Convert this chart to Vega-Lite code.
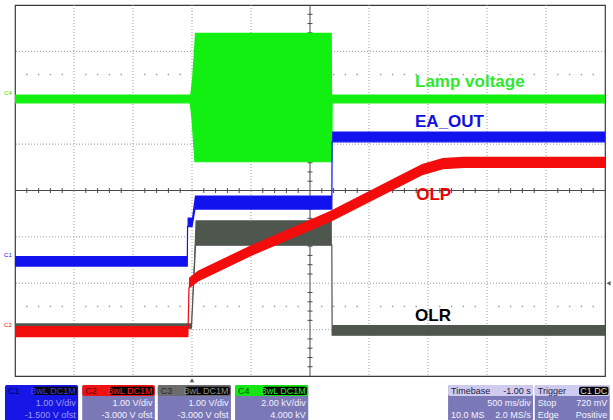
{
  "$schema": "https://vega.github.io/schema/vega-lite/v6.json",
  "width": 590,
  "height": 371,
  "autosize": "none",
  "padding": {"left": 15, "top": 5, "right": 8, "bottom": 44},
  "background": "#ffffff",
  "config": {
    "view": {"stroke": "#3a3a3a", "strokeWidth": 1.2},
    "text": {"font": "Liberation Sans"}
  },
  "datasets": {
    "gridX": [{"d": 1}, {"d": 2}, {"d": 3}, {"d": 4}, {"d": 6}, {"d": 7}, {"d": 8}, {"d": 9}],
    "gridY": [{"d": 1}, {"d": 2}, {"d": 3}, {"d": 5}, {"d": 6}, {"d": 7}],
    "subX": [
      {"d": 0.2}, {"d": 0.4}, {"d": 0.6}, {"d": 0.8}, {"d": 1.2}, {"d": 1.4}, {"d": 1.6}, {"d": 1.8},
      {"d": 2.2}, {"d": 2.4}, {"d": 2.6}, {"d": 2.8}, {"d": 3.2}, {"d": 3.4}, {"d": 3.6}, {"d": 3.8},
      {"d": 4.2}, {"d": 4.4}, {"d": 4.6}, {"d": 4.8}, {"d": 5.2}, {"d": 5.4}, {"d": 5.6}, {"d": 5.8},
      {"d": 6.2}, {"d": 6.4}, {"d": 6.6}, {"d": 6.8}, {"d": 7.2}, {"d": 7.4}, {"d": 7.6}, {"d": 7.8},
      {"d": 8.2}, {"d": 8.4}, {"d": 8.6}, {"d": 8.8}, {"d": 9.2}, {"d": 9.4}, {"d": 9.6}, {"d": 9.8}
    ],
    "subY": [
      {"d": 0.2}, {"d": 0.4}, {"d": 0.6}, {"d": 0.8}, {"d": 1.2}, {"d": 1.4}, {"d": 1.6}, {"d": 1.8},
      {"d": 2.2}, {"d": 2.4}, {"d": 2.6}, {"d": 2.8}, {"d": 3.2}, {"d": 3.4}, {"d": 3.6}, {"d": 3.8},
      {"d": 4.2}, {"d": 4.4}, {"d": 4.6}, {"d": 4.8}, {"d": 5.2}, {"d": 5.4}, {"d": 5.6}, {"d": 5.8},
      {"d": 6.2}, {"d": 6.4}, {"d": 6.6}, {"d": 6.8}, {"d": 7.2}, {"d": 7.4}, {"d": 7.6}, {"d": 7.8}
    ],
    "traces": [
      {"ch": "C4", "t": 0, "lo": 5.89, "hi": 6.07},
      {"ch": "C4", "t": 2.97, "lo": 5.89, "hi": 6.07},
      {"ch": "C4", "t": 3.0, "lo": 5.55, "hi": 6.4},
      {"ch": "C4", "t": 3.05, "lo": 4.62, "hi": 7.4},
      {"ch": "C4", "t": 5.37, "lo": 4.62, "hi": 7.4},
      {"ch": "C4", "t": 5.375, "lo": 5.89, "hi": 6.07},
      {"ch": "C4", "t": 10, "lo": 5.89, "hi": 6.07},

      {"ch": "C3", "t": 0, "lo": 1.03, "hi": 1.14},
      {"ch": "C3", "t": 2.99, "lo": 1.03, "hi": 1.14},
      {"ch": "C3", "t": 3.06, "lo": 2.82, "hi": 3.36},
      {"ch": "C3", "t": 5.37, "lo": 2.82, "hi": 3.36},
      {"ch": "C3", "t": 5.375, "lo": 0.88, "hi": 1.1},
      {"ch": "C3", "t": 10, "lo": 0.88, "hi": 1.1},

      {"ch": "C1", "t": 0, "lo": 2.37, "hi": 2.59},
      {"ch": "C1", "t": 2.92, "lo": 2.37, "hi": 2.59},
      {"ch": "C1", "t": 2.925, "lo": 3.22, "hi": 3.42},
      {"ch": "C1", "t": 3.0, "lo": 3.22, "hi": 3.42},
      {"ch": "C1", "t": 3.05, "lo": 3.6, "hi": 3.89},
      {"ch": "C1", "t": 5.37, "lo": 3.6, "hi": 3.89},
      {"ch": "C1", "t": 5.375, "lo": 5.05, "hi": 5.27},
      {"ch": "C1", "t": 10, "lo": 5.05, "hi": 5.27},

      {"ch": "C2", "t": 0, "lo": 0.85, "hi": 1.08},
      {"ch": "C2", "t": 2.93, "lo": 0.85, "hi": 1.08},
      {"ch": "C2", "t": 2.95, "lo": 1.9, "hi": 2.12},
      {"ch": "C2", "t": 3.1, "lo": 2.05, "hi": 2.27},
      {"ch": "C2", "t": 4.0, "lo": 2.6, "hi": 2.82},
      {"ch": "C2", "t": 5.34, "lo": 3.33, "hi": 3.56},
      {"ch": "C2", "t": 6.5, "lo": 4.08, "hi": 4.31},
      {"ch": "C2", "t": 6.9, "lo": 4.34, "hi": 4.57},
      {"ch": "C2", "t": 7.25, "lo": 4.47, "hi": 4.7},
      {"ch": "C2", "t": 7.6, "lo": 4.5, "hi": 4.73},
      {"ch": "C2", "t": 10, "lo": 4.5, "hi": 4.73}
    ],
    "chanTags": [
      {"ch": "C4", "lvl": 6.06},
      {"ch": "C1", "lvl": 2.56},
      {"ch": "C2", "lvl": 1.05}
    ],
    "labels": [
      {"text": "Lamp voltage", "x": 6.78, "y": 6.23, "tone": "lgreen"},
      {"text": "EA_OUT", "x": 6.78, "y": 5.37, "tone": "lblue"},
      {"text": "OLP", "x": 6.8, "y": 3.8, "tone": "lred"},
      {"text": "OLR", "x": 6.78, "y": 1.19, "tone": "lblack"}
    ],
    "boxes": [
      {"x0": -0.17, "x1": 1.07, "y0": -0.194, "y1": -1.0, "tone": "c1"},
      {"x0": 1.14, "x1": 2.37, "y0": -0.194, "y1": -1.0, "tone": "body"},
      {"x0": 2.42, "x1": 3.66, "y0": -0.194, "y1": -1.0, "tone": "body"},
      {"x0": 3.73, "x1": 4.97, "y0": -0.194, "y1": -1.0, "tone": "body"},
      {"x0": 7.34, "x1": 8.78, "y0": -0.194, "y1": -1.0, "tone": "body"},
      {"x0": 8.81, "x1": 10.08, "y0": -0.194, "y1": -1.0, "tone": "body"},
      {"x0": 1.14, "x1": 2.37, "y0": -0.194, "y1": -0.43, "tone": "c2"},
      {"x0": 2.42, "x1": 3.66, "y0": -0.194, "y1": -0.43, "tone": "c3"},
      {"x0": 3.73, "x1": 4.97, "y0": -0.194, "y1": -0.43, "tone": "c4"},
      {"x0": 7.34, "x1": 8.78, "y0": -0.194, "y1": -0.43, "tone": "head"},
      {"x0": 8.81, "x1": 10.08, "y0": -0.194, "y1": -0.43, "tone": "head"},
      {"x0": 0.31, "x1": 1.05, "y0": -0.23, "y1": -0.41, "tone": "tag"},
      {"x0": 1.61, "x1": 2.35, "y0": -0.23, "y1": -0.41, "tone": "tag"},
      {"x0": 2.89, "x1": 3.64, "y0": -0.23, "y1": -0.41, "tone": "tag"},
      {"x0": 4.2, "x1": 4.95, "y0": -0.23, "y1": -0.41, "tone": "tag"},
      {"x0": 9.56, "x1": 10.06, "y0": -0.23, "y1": -0.41, "tone": "tag"}
    ],
    "readout": [
      {"side": "L", "x": -0.12, "y": -0.323, "text": "C1", "tone": "navy"},
      {"side": "R", "x": 1.03, "y": -0.323, "text": "BwL DC1M", "tone": "tagc1"},
      {"side": "R", "x": 1.03, "y": -0.582, "text": "1.00 V/div", "tone": "dim"},
      {"side": "R", "x": 1.03, "y": -0.841, "text": "-1.500 V ofst", "tone": "dim"},

      {"side": "L", "x": 1.19, "y": -0.323, "text": "C2", "tone": "maroon"},
      {"side": "R", "x": 2.33, "y": -0.323, "text": "BwL DC1M", "tone": "tagc2"},
      {"side": "R", "x": 2.33, "y": -0.582, "text": "1.00 V/div", "tone": "ink"},
      {"side": "R", "x": 2.33, "y": -0.841, "text": "-3.000 V ofst", "tone": "ink"},

      {"side": "L", "x": 2.47, "y": -0.323, "text": "C3", "tone": "charcoal"},
      {"side": "R", "x": 3.62, "y": -0.323, "text": "BwL DC1M", "tone": "tagc3"},
      {"side": "R", "x": 3.62, "y": -0.582, "text": "1.00 V/div", "tone": "ink"},
      {"side": "R", "x": 3.62, "y": -0.841, "text": "-3.000 V ofst", "tone": "ink"},

      {"side": "L", "x": 3.78, "y": -0.323, "text": "C4", "tone": "forest"},
      {"side": "R", "x": 4.93, "y": -0.323, "text": "BwL DC1M", "tone": "tagc4"},
      {"side": "R", "x": 4.93, "y": -0.582, "text": "2.00 kV/div", "tone": "ink"},
      {"side": "R", "x": 4.93, "y": -0.841, "text": "4.000 kV", "tone": "ink"},

      {"side": "L", "x": 7.39, "y": -0.323, "text": "Timebase", "tone": "dark"},
      {"side": "R", "x": 8.74, "y": -0.323, "text": "-1.00 s", "tone": "dark"},
      {"side": "R", "x": 8.74, "y": -0.582, "text": "500 ms/div", "tone": "ink"},
      {"side": "L", "x": 7.39, "y": -0.841, "text": "10.0 MS", "tone": "ink"},
      {"side": "R", "x": 8.74, "y": -0.841, "text": "2.0 MS/s", "tone": "ink"},

      {"side": "L", "x": 8.86, "y": -0.323, "text": "Trigger", "tone": "dark"},
      {"side": "R", "x": 10.04, "y": -0.323, "text": "C1 DC", "tone": "tagtr"},
      {"side": "L", "x": 8.86, "y": -0.582, "text": "Stop", "tone": "ink"},
      {"side": "R", "x": 10.04, "y": -0.582, "text": "720 mV", "tone": "ink"},
      {"side": "L", "x": 8.86, "y": -0.841, "text": "Edge", "tone": "ink"},
      {"side": "R", "x": 10.04, "y": -0.841, "text": "Positive", "tone": "ink"}
    ],
    "markers": [
      {"kind": "time", "x": 3.0, "y": -0.09},
      {"kind": "level", "x": 10.06, "y": 2.0}
    ]
  },
  "layer": [
    {
      "data": {"name": "gridX"},
      "mark": {"type": "rule", "color": "#9a9a9a", "strokeDash": [1, 2], "strokeWidth": 1},
      "encoding": {
        "x": {"field": "d", "type": "quantitative", "scale": {"domain": [0, 10], "nice": false, "zero": false}, "axis": null}
      }
    },
    {
      "data": {"name": "gridY"},
      "mark": {"type": "rule", "color": "#9a9a9a", "strokeDash": [1, 2], "strokeWidth": 1},
      "encoding": {
        "y": {"field": "d", "type": "quantitative", "scale": {"domain": [0, 8], "nice": false, "zero": false}, "axis": null}
      }
    },
    {
      "data": {"name": "subX"},
      "mark": {"type": "square", "size": 2, "color": "#9a9a9a", "opacity": 1},
      "encoding": {
        "x": {"field": "d", "type": "quantitative", "scale": {"domain": [0, 10], "nice": false, "zero": false}, "axis": null},
        "y": {"datum": 6.5, "type": "quantitative", "scale": {"domain": [0, 8], "nice": false, "zero": false}, "axis": null}
      }
    },
    {
      "data": {"name": "subX"},
      "mark": {"type": "square", "size": 2, "color": "#9a9a9a", "opacity": 1},
      "encoding": {
        "x": {"field": "d", "type": "quantitative", "scale": {"domain": [0, 10], "nice": false, "zero": false}, "axis": null},
        "y": {"datum": 1.5, "type": "quantitative", "scale": {"domain": [0, 8], "nice": false, "zero": false}, "axis": null}
      }
    },
    {
      "data": {"values": [{}]},
      "mark": {"type": "rule", "color": "#4a4a4a", "strokeWidth": 1},
      "encoding": {
        "x": {"datum": 5, "type": "quantitative", "scale": {"domain": [0, 10], "nice": false, "zero": false}, "axis": null}
      }
    },
    {
      "data": {"values": [{}]},
      "mark": {"type": "rule", "color": "#4a4a4a", "strokeWidth": 1},
      "encoding": {
        "y": {"datum": 4, "type": "quantitative", "scale": {"domain": [0, 8], "nice": false, "zero": false}, "axis": null}
      }
    },
    {
      "data": {"name": "subX"},
      "mark": {"type": "tick", "orient": "vertical", "size": 5, "thickness": 1, "color": "#4a4a4a", "opacity": 1},
      "encoding": {
        "x": {"field": "d", "type": "quantitative", "scale": {"domain": [0, 10], "nice": false, "zero": false}, "axis": null},
        "y": {"datum": 4, "type": "quantitative", "scale": {"domain": [0, 8], "nice": false, "zero": false}, "axis": null}
      }
    },
    {
      "data": {"name": "subY"},
      "mark": {"type": "tick", "orient": "horizontal", "size": 5, "thickness": 1, "color": "#4a4a4a", "opacity": 1},
      "encoding": {
        "x": {"datum": 5, "type": "quantitative", "scale": {"domain": [0, 10], "nice": false, "zero": false}, "axis": null},
        "y": {"field": "d", "type": "quantitative", "scale": {"domain": [0, 8], "nice": false, "zero": false}, "axis": null}
      }
    },
    {
      "data": {"name": "traces"},
      "transform": [{"filter": "datum.ch === 'C4'"}],
      "encoding": {
        "x": {"field": "t", "type": "quantitative", "scale": {"domain": [0, 10], "nice": false, "zero": false}, "axis": null},
        "color": {"field": "ch", "type": "nominal", "scale": {"domain": ["C1", "C2", "C3", "C4"], "range": ["#1212ee", "#f20c0c", "#4e564e", "#12f012"]}, "legend": null}
      },
      "layer": [
        {
          "mark": {"type": "area", "opacity": 1},
          "encoding": {
            "y": {"field": "hi", "type": "quantitative", "scale": {"domain": [0, 8], "nice": false, "zero": false}, "axis": null},
            "y2": {"field": "lo"}
          }
        },
        {
          "mark": {"type": "line", "strokeWidth": 1.2},
          "encoding": {
            "y": {"field": "lo", "type": "quantitative", "scale": {"domain": [0, 8], "nice": false, "zero": false}, "axis": null}
          }
        }
      ]
    },
    {
      "data": {"name": "traces"},
      "transform": [{"filter": "datum.ch === 'C3'"}],
      "encoding": {
        "x": {"field": "t", "type": "quantitative", "scale": {"domain": [0, 10], "nice": false, "zero": false}, "axis": null},
        "color": {"field": "ch", "type": "nominal", "scale": {"domain": ["C1", "C2", "C3", "C4"], "range": ["#1212ee", "#f20c0c", "#4e564e", "#12f012"]}, "legend": null}
      },
      "layer": [
        {
          "mark": {"type": "area", "opacity": 1},
          "encoding": {
            "y": {"field": "hi", "type": "quantitative", "scale": {"domain": [0, 8], "nice": false, "zero": false}, "axis": null},
            "y2": {"field": "lo"}
          }
        },
        {
          "mark": {"type": "line", "strokeWidth": 1.2},
          "encoding": {
            "y": {"field": "lo", "type": "quantitative", "scale": {"domain": [0, 8], "nice": false, "zero": false}, "axis": null}
          }
        }
      ]
    },
    {
      "data": {"name": "traces"},
      "transform": [{"filter": "datum.ch === 'C1'"}],
      "encoding": {
        "x": {"field": "t", "type": "quantitative", "scale": {"domain": [0, 10], "nice": false, "zero": false}, "axis": null},
        "color": {"field": "ch", "type": "nominal", "scale": {"domain": ["C1", "C2", "C3", "C4"], "range": ["#1212ee", "#f20c0c", "#4e564e", "#12f012"]}, "legend": null}
      },
      "layer": [
        {
          "mark": {"type": "area", "opacity": 1},
          "encoding": {
            "y": {"field": "hi", "type": "quantitative", "scale": {"domain": [0, 8], "nice": false, "zero": false}, "axis": null},
            "y2": {"field": "lo"}
          }
        },
        {
          "mark": {"type": "line", "strokeWidth": 1.2},
          "encoding": {
            "y": {"field": "lo", "type": "quantitative", "scale": {"domain": [0, 8], "nice": false, "zero": false}, "axis": null}
          }
        }
      ]
    },
    {
      "data": {"name": "traces"},
      "transform": [{"filter": "datum.ch === 'C2'"}],
      "encoding": {
        "x": {"field": "t", "type": "quantitative", "scale": {"domain": [0, 10], "nice": false, "zero": false}, "axis": null},
        "color": {"field": "ch", "type": "nominal", "scale": {"domain": ["C1", "C2", "C3", "C4"], "range": ["#1212ee", "#f20c0c", "#4e564e", "#12f012"]}, "legend": null}
      },
      "layer": [
        {
          "mark": {"type": "area", "opacity": 1},
          "encoding": {
            "y": {"field": "hi", "type": "quantitative", "scale": {"domain": [0, 8], "nice": false, "zero": false}, "axis": null},
            "y2": {"field": "lo"}
          }
        },
        {
          "mark": {"type": "line", "strokeWidth": 1.2},
          "encoding": {
            "y": {"field": "lo", "type": "quantitative", "scale": {"domain": [0, 8], "nice": false, "zero": false}, "axis": null}
          }
        }
      ]
    },
    {
      "data": {"name": "chanTags"},
      "mark": {"type": "text", "fontSize": 6, "align": "center", "baseline": "bottom", "dy": 1, "clip": false},
      "encoding": {
        "x": {"datum": -0.12, "type": "quantitative", "scale": {"domain": [0, 10], "nice": false, "zero": false}, "axis": null},
        "y": {"field": "lvl", "type": "quantitative", "scale": {"domain": [0, 8], "nice": false, "zero": false}, "axis": null},
        "text": {"field": "ch"},
        "color": {"field": "ch", "type": "nominal", "scale": {"domain": ["C1", "C2", "C3", "C4"], "range": ["#1212ee", "#f20c0c", "#4e564e", "#12f012"]}, "legend": null}
      }
    },
    {
      "data": {"name": "labels"},
      "mark": {"type": "text", "fontSize": 17, "fontWeight": "bold", "align": "left", "baseline": "alphabetic"},
      "encoding": {
        "x": {"field": "x", "type": "quantitative", "scale": {"domain": [0, 10], "nice": false, "zero": false}, "axis": null},
        "y": {"field": "y", "type": "quantitative", "scale": {"domain": [0, 8], "nice": false, "zero": false}, "axis": null},
        "text": {"field": "text"},
        "fill": {"field": "tone", "type": "nominal", "legend": null,
          "scale": {
            "domain": ["c1", "c2", "c3", "c4", "body", "head", "tag", "ink", "dim", "navy", "maroon", "charcoal", "forest", "tagc1", "tagc2", "tagc3", "tagc4", "tagtr", "dark", "lgreen", "lblue", "lred", "lblack"],
            "range": ["#1616e6", "#ee1212", "#6c6c6c", "#14e614", "#7b78b8", "#cfcbef", "#050505", "#f2f2ff", "#9c9cf2", "#00005a", "#5a0000", "#2a2a2a", "#004a00", "#3a3aff", "#ff2020", "#8c8c8c", "#20f020", "#d8d8d8", "#202040", "#2ee82e", "#1010e0", "#f00000", "#000000"]
          }
        }
      }
    },
    {
      "data": {"name": "boxes"},
      "mark": {"type": "rect", "cornerRadius": 2, "clip": false},
      "encoding": {
        "x": {"field": "x0", "type": "quantitative", "scale": {"domain": [0, 10], "nice": false, "zero": false}, "axis": null},
        "x2": {"field": "x1"},
        "y": {"field": "y0", "type": "quantitative", "scale": {"domain": [0, 8], "nice": false, "zero": false}, "axis": null},
        "y2": {"field": "y1"},
        "fill": {"field": "tone", "type": "nominal", "legend": null}
      }
    },
    {
      "data": {"name": "readout"},
      "transform": [{"filter": "datum.side === 'L'"}],
      "mark": {"type": "text", "fontSize": 9, "align": "left", "baseline": "middle", "clip": false},
      "encoding": {
        "x": {"field": "x", "type": "quantitative", "scale": {"domain": [0, 10], "nice": false, "zero": false}, "axis": null},
        "y": {"field": "y", "type": "quantitative", "scale": {"domain": [0, 8], "nice": false, "zero": false}, "axis": null},
        "text": {"field": "text"},
        "fill": {"field": "tone", "type": "nominal", "legend": null}
      }
    },
    {
      "data": {"name": "readout"},
      "transform": [{"filter": "datum.side === 'R'"}],
      "mark": {"type": "text", "fontSize": 9, "align": "right", "baseline": "middle", "clip": false},
      "encoding": {
        "x": {"field": "x", "type": "quantitative", "scale": {"domain": [0, 10], "nice": false, "zero": false}, "axis": null},
        "y": {"field": "y", "type": "quantitative", "scale": {"domain": [0, 8], "nice": false, "zero": false}, "axis": null},
        "text": {"field": "text"},
        "fill": {"field": "tone", "type": "nominal", "legend": null}
      }
    },
    {
      "data": {"name": "markers"},
      "transform": [{"filter": "datum.kind === 'time'"}],
      "mark": {"type": "point", "shape": "triangle-up", "size": 22, "filled": true, "color": "#5a5a5a", "opacity": 1, "clip": false},
      "encoding": {
        "x": {"field": "x", "type": "quantitative", "scale": {"domain": [0, 10], "nice": false, "zero": false}, "axis": null},
        "y": {"field": "y", "type": "quantitative", "scale": {"domain": [0, 8], "nice": false, "zero": false}, "axis": null}
      }
    },
    {
      "data": {"name": "markers"},
      "transform": [{"filter": "datum.kind === 'level'"}],
      "mark": {"type": "point", "shape": "triangle-left", "size": 22, "filled": true, "color": "#5a5a5a", "opacity": 1, "clip": false},
      "encoding": {
        "x": {"field": "x", "type": "quantitative", "scale": {"domain": [0, 10], "nice": false, "zero": false}, "axis": null},
        "y": {"field": "y", "type": "quantitative", "scale": {"domain": [0, 8], "nice": false, "zero": false}, "axis": null}
      }
    }
  ]
}
